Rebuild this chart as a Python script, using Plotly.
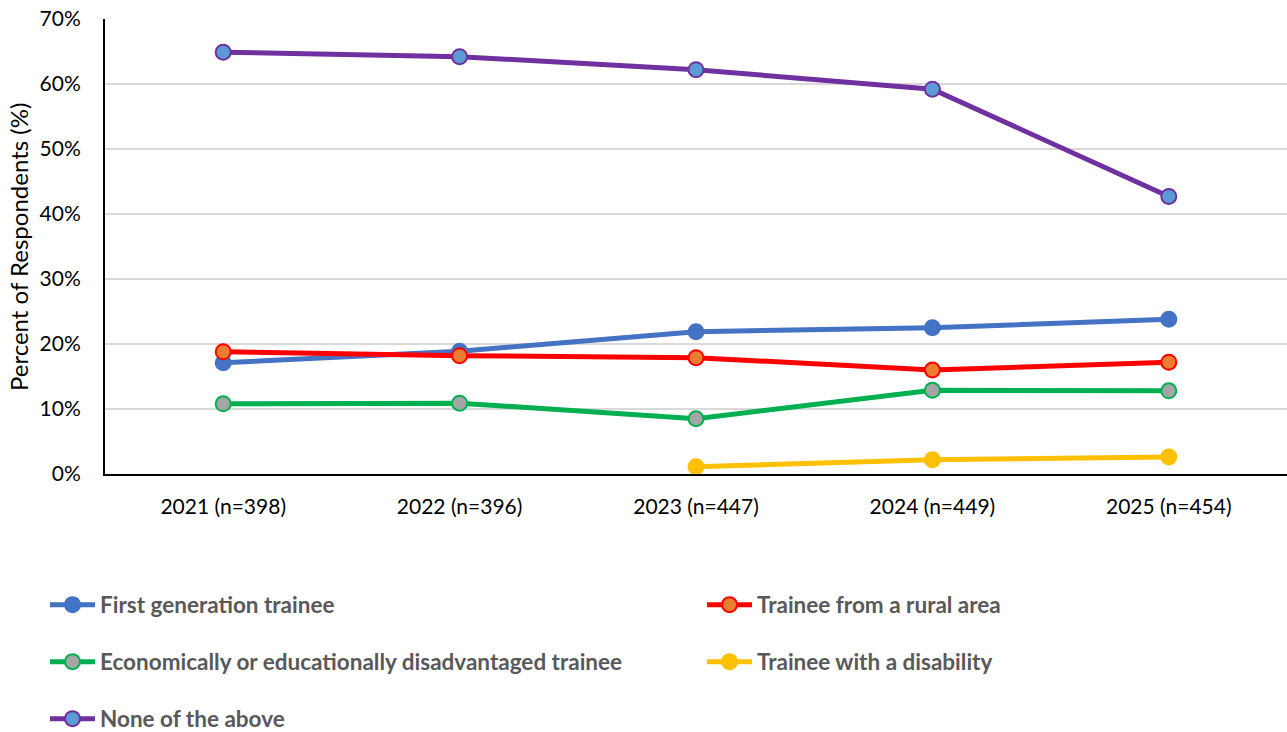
import plotly.graph_objects as go

years = ["2021 (n=398)", "2022 (n=396)", "2023 (n=447)", "2024 (n=449)", "2025 (n=454)"]

first_generation = [17.1, 18.9, 21.9, 22.5, 23.8]
rural_area = [18.8, 18.2, 17.9, 16.0, 17.2]
disadvantaged = [10.8, 10.9, 8.5, 12.9, 12.8]
disability = [None, None, 1.1, 2.2, 2.6]
none_above = [64.9, 64.2, 62.2, 59.2, 42.7]

tick_vals = [0, 10, 20, 30, 40, 50, 60, 70]
tick_text = ["0%", "10%", "20%", "30%", "40%", "50%", "60%", "70%"]

FONT = "Lato"

series = [
    ("First generation trainee", first_generation, "#4472C4", "#4472C4", "#4472C4", "legend"),
    ("Trainee from a rural area", rural_area, "#FF0000", "#ED7D31", "#FF0000", "legend2"),
    ("Economically or educationally disadvantaged trainee", disadvantaged, "#00B050", "#A5A5A5", "#00B050", "legend3"),
    ("Trainee with a disability", disability, "#FFC000", "#FFC000", "#FFC000", "legend4"),
    ("None of the above", none_above, "#7030A0", "#5B9BD5", "#7030A0", "legend5"),
]

fig = go.Figure()
for name, vals, line_c, fill_c, edge_c, leg in series:
    fig.add_trace(go.Scatter(
        x=years, y=vals, name=name, mode="lines+markers",
        line=dict(color=line_c, width=5),
        marker=dict(size=15, color=fill_c, line=dict(color=edge_c, width=2)),
        connectgaps=False, legend=leg,
    ))

W, H = 1287, 732
ml, mr, mt, mb = 105, 0, 19, 258
pw, ph = W - ml - mr, H - mt - mb


def to_paper(xp, yp):
    """Convert a page pixel position to paper coordinates of the plot area."""
    return (xp - ml) / pw, (H - mb - yp) / ph


leg_font = dict(family=FONT, size=22.5, color="#595959", weight="bold")

# one single-entry legend per series, laid out in a two-column grid below the plot
positions = {
    "legend": (45, 605), "legend2": (702, 605), "legend3": (45, 662),
    "legend4": (702, 662), "legend5": (45, 719),
}
layout_legends = {}
for key, (xp, yp) in positions.items():
    lx, ly = to_paper(xp, yp)
    layout_legends[key] = dict(
        x=lx, y=ly, xref="paper", yref="paper",
        xanchor="left", yanchor="middle", font=leg_font,
        bgcolor="rgba(0,0,0,0)", borderwidth=0, itemwidth=45,
    )

tx, ty = to_paper(18, 247)

fig.update_layout(
    width=W, height=H,
    margin=dict(l=ml, r=mr, t=mt, b=mb, autoexpand=False),
    paper_bgcolor="white", plot_bgcolor="white",
    font=dict(family=FONT, size=21, color="#000000"),
    showlegend=True,
    xaxis=dict(
        type="category", range=[-0.5, 4.5], showgrid=False,
        showline=True, linecolor="black", linewidth=2,
        ticks="", tickfont=dict(family=FONT, size=21, color="#000000"),
        ticklabelstandoff=13,
    ),
    yaxis=dict(
        range=[0, 70], tickvals=tick_vals, ticktext=tick_text,
        showgrid=True, gridcolor="#D9D9D9", gridwidth=2,
        showline=True, linecolor="black", linewidth=2,
        zeroline=False, ticks="",
        tickfont=dict(family=FONT, size=21, color="#000000"),
        ticklabelstandoff=18,
    ),
    annotations=[dict(
        text="Percent of Respondents (%)", textangle=-90,
        x=tx, y=ty, xref="paper", yref="paper",
        xanchor="center", yanchor="middle", showarrow=False,
        font=dict(family=FONT, size=24, color="#000000"),
    )],
    **layout_legends,
)

fig.write_html("out.html")
